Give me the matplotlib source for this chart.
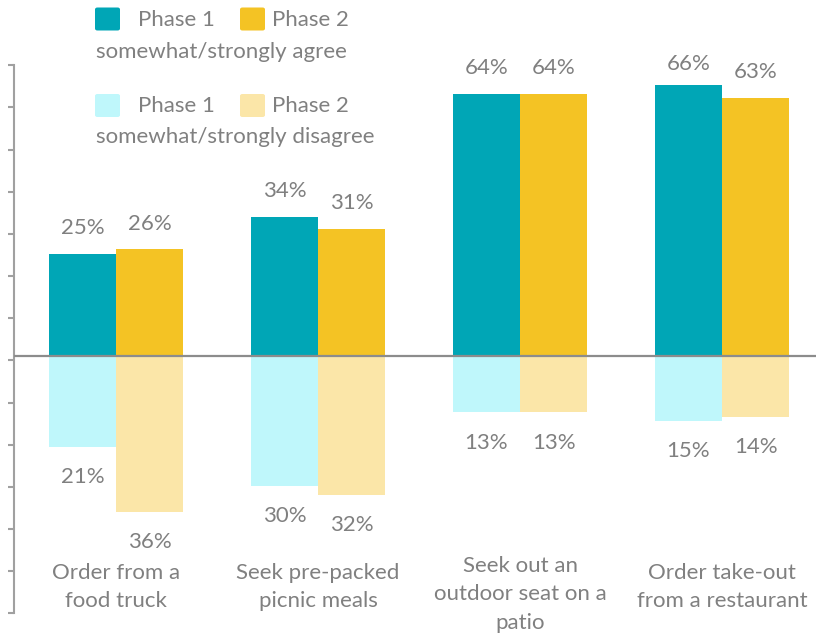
import matplotlib
matplotlib.use("Agg")
import matplotlib.pyplot as plt
from matplotlib.patches import FancyBboxPatch
import numpy as np

categories = ["Order from a\nfood truck", "Seek pre-packed\npicnic meals",
              "Seek out an\noutdoor seat on a\npatio", "Order take-out\nfrom a restaurant"]
agree_p1 = [25, 34, 64, 66]
agree_p2 = [26, 31, 64, 63]
disagree_p1 = [21, 30, 13, 15]
disagree_p2 = [36, 32, 13, 14]

C_TEAL = "#00A6B6"
C_GOLD = "#F4C324"
C_LTEAL = "#BFF7FB"
C_LGOLD = "#FBE6A8"
TXT = "#808080"

plt.rcParams['font.family'] = ['Lato', 'DejaVu Sans']
FS = 16

W, H = 816, 633
fig = plt.figure(figsize=(W / 100, H / 100), dpi=100)

def fx(px):
    return px / W

def fy(py):
    return 1 - py / H

ax_top, ax_bot, ax_left = 65.3, 613.3, 14
ax = fig.add_axes([fx(ax_left), fy(ax_bot), 1 - fx(ax_left), (ax_bot - ax_top) / H])
ax2 = ax.twinx()

x = np.arange(len(categories))
bw = 1 / 3
zero_px = 356.0
pos_scale = 4.1   # px per %
neg_scale = 4.33
ax.set_ylim(-(ax_bot - zero_px) / pos_scale, (zero_px - ax_top) / pos_scale)
ax2.set_ylim(-(ax_bot - zero_px) / neg_scale, (zero_px - ax_top) / neg_scale)
ax.set_xlim(-0.505, 3.465)

b1 = ax.bar(x - bw / 2, agree_p1, bw, color=C_TEAL, zorder=2)
b2 = ax.bar(x + bw / 2, agree_p2, bw, color=C_GOLD, zorder=2)
b3 = ax2.bar(x - bw / 2, [-v for v in disagree_p1], bw, color=C_LTEAL, zorder=2)
b4 = ax2.bar(x + bw / 2, [-v for v in disagree_p2], bw, color=C_LGOLD, zorder=2)

PX_PER_PT = 100 / 72
for bars, vals in ((b1, agree_p1), (b2, agree_p2)):
    for r, v in zip(bars, vals):
        top_px = H - ax.transData.transform((0, v))[1]
        off_px = min(25.5, top_px - 64)
        ax.annotate(f"{v}%", (r.get_x() + r.get_width() / 2, v),
                    xytext=(0, off_px / PX_PER_PT),
                    textcoords="offset points", ha="center", va="center",
                    fontsize=FS, color=TXT)
for bars, vals in ((b3, disagree_p1), (b4, disagree_p2)):
    for r, v in zip(bars, vals):
        ax2.annotate(f"{v}%", (r.get_x() + r.get_width() / 2, -v), xytext=(0, -21.8),
                     textcoords="offset points", ha="center", va="center",
                     fontsize=FS, color=TXT)

ax2.axhline(0, color="#8C8C8C", lw=1.6, zorder=3)

# spines / ticks
for a in (ax, ax2):
    for s in ("top", "right", "bottom"):
        a.spines[s].set_visible(False)
ax2.spines["left"].set_visible(False)
ax2.set_yticks([])
ax.spines["left"].set_color("#A0A0A0")
ax.spines["left"].set_linewidth(1.5)
lo, hi = ax.get_ylim()
ax.set_yticks(np.linspace(lo, hi, 14))
ax.tick_params(axis="y", direction="out", length=4.5, width=1.5, color="#A0A0A0",
               labelleft=False)
ax.set_xticks([])

# category labels
for xi, lab in zip(x, categories):
    n = lab.count("\n") + 1
    top_px = 563 if n == 2 else 556
    fig.text(ax.transData.transform((xi, 0))[0] / W, fy(top_px), lab,
             ha="center", va="top", fontsize=FS, color=TXT, linespacing=1.53)

# manual legend
def sq(x0, y0, color):
    p = FancyBboxPatch((fx(x0), fy(y0 + 23)), fx(25), 23 / H,
                       boxstyle="round,pad=0,rounding_size=0.003",
                       transform=fig.transFigure, facecolor=color, edgecolor="none")
    fig.patches.append(p)

sq(95, 7.5, C_TEAL)
sq(240, 7.5, C_GOLD)
fig.text(fx(138), fy(19.5), "Phase 1", fontsize=FS, color=TXT, va="center")
fig.text(fx(272.5), fy(19.5), "Phase 2", fontsize=FS, color=TXT, va="center")
fig.text(fx(96.5), fy(51.5), "somewhat/strongly agree", fontsize=FS, color=TXT, va="center")
sq(95, 94, C_LTEAL)
sq(240, 94, C_LGOLD)
fig.text(fx(138), fy(105.5), "Phase 1", fontsize=FS, color=TXT, va="center")
fig.text(fx(272.5), fy(105.5), "Phase 2", fontsize=FS, color=TXT, va="center")
fig.text(fx(96.5), fy(137), "somewhat/strongly disagree", fontsize=FS, color=TXT, va="center")

fig.savefig("out.png", dpi=100)
